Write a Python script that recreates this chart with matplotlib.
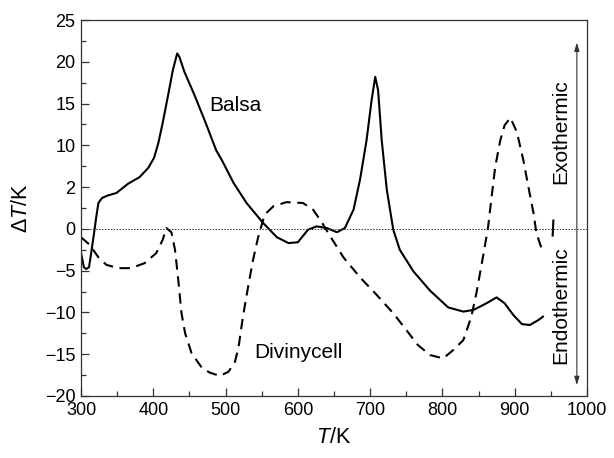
import matplotlib
matplotlib.use("Agg")
import matplotlib.pyplot as plt
from matplotlib.ticker import MultipleLocator, FixedLocator, FixedFormatter

plt.rcParams['font.family'] = ['Liberation Sans', 'DejaVu Sans']
plt.rcParams['mathtext.fontset'] = 'custom'
plt.rcParams['mathtext.rm'] = 'Liberation Sans'
plt.rcParams['mathtext.it'] = 'Liberation Sans:italic'

# Balsa (solid)
balsa_T = [300, 304, 307, 311, 314, 318, 321, 324, 329, 337, 349, 365, 381, 393, 401, 407,
           413, 420, 427, 433, 436, 443, 457, 471, 487, 495, 511, 529, 552, 571, 587, 600,
           614, 626, 640, 654, 665, 677, 686, 695, 702, 707, 711, 716, 723, 732, 741, 760,
           783, 808, 829, 843, 861, 875, 886, 898, 910, 921, 933, 939]
balsa_dT = [-2.9, -4.6, -4.8, -4.6, -2.9, -0.5, 1.4, 3.1, 3.7, 4.0, 4.3, 5.4, 6.2, 7.3, 8.5, 10.3,
            12.7, 15.8, 19.0, 21.0, 20.6, 18.8, 16.0, 13.0, 9.4, 8.2, 5.5, 3.1, 0.7, -1.0, -1.7, -1.6,
            -0.1, 0.3, 0.1, -0.4, 0.1, 2.3, 5.9, 10.6, 15.4, 18.2, 16.6, 10.6, 4.7, -0.1, -2.5, -5.1,
            -7.4, -9.4, -9.9, -9.7, -8.9, -8.2, -8.9, -10.3, -11.4, -11.5, -10.9, -10.5]

# Divinycell (dashed)
div_T = [300, 312, 324, 335, 351, 369, 388, 404, 413, 418, 425, 430, 435, 439, 444, 453,
         467, 478, 492, 504, 513, 518, 524, 531, 538, 545, 554, 566, 584, 607, 621, 633,
         642, 663, 686, 709, 732, 750, 766, 783, 801, 815, 829, 840, 847, 856, 863, 868,
         873, 880, 886, 894, 903, 912, 919, 926, 930, 937]
div_dT = [-1.0, -1.9, -3.4, -4.3, -4.7, -4.7, -4.1, -2.9, -1.3, 0.1, -0.4, -2.5, -6.5, -10.1, -12.5, -14.9,
          -16.6, -17.2, -17.6, -17.1, -15.9, -14.1, -10.5, -7.0, -3.7, -1.0, 1.7, 2.7, 3.2, 3.1, 2.3, 0.8,
          -0.5, -3.4, -5.8, -7.9, -10.1, -12.1, -13.9, -15.1, -15.5, -14.5, -13.3, -10.5, -7.7, -3.4, 0.1, 3.8,
          7.4, 10.6, 12.4, 13.3, 11.6, 8.2, 5.0, 1.9, -0.5, -2.3]
div_tail_T = [952.5, 953.5]
div_tail_dT = [-0.8, 1.0]

ytick_vals = [-20, -15, -10, -5, 0, 5, 10, 15, 20, 25]
ytick_labels = ['\u221220', '\u221215', '\u221210', '\u22125', '0', '2', '10', '15', '20', '25']
xtick_vals = [300, 400, 500, 600, 700, 800, 900, 1000]

fig = plt.figure(figsize=(6.14, 4.58), dpi=100)
ax = fig.add_axes([0.132, 0.1354, 0.824, 0.8209])

ax.plot(balsa_T, balsa_dT, color='black', lw=1.5, solid_joinstyle='round')
ax.plot(div_T, div_dT, color='black', lw=1.5, dashes=(5.0, 3.2), dash_joinstyle='round')
ax.plot(div_tail_T, div_tail_dT, color='black', lw=1.5)
ax.axhline(0, color='#333333', lw=0.7, ls=(0, (1.5, 1.5)))

ax.set_xlim(300, 1000)
ax.set_ylim(-20, 25)
ax.xaxis.set_major_locator(FixedLocator(xtick_vals))
ax.xaxis.set_minor_locator(MultipleLocator(50))
ax.yaxis.set_major_locator(FixedLocator(ytick_vals))
ax.yaxis.set_major_formatter(FixedFormatter(ytick_labels))
ax.yaxis.set_minor_locator(MultipleLocator(2.5))
ax.tick_params(which='both', direction='in', top=False, right=False, labelsize=13, color='#333333')
ax.tick_params(which='major', length=6, width=0.9, pad=4)
ax.tick_params(which='minor', length=3.5, width=0.9)
for s in ax.spines.values():
    s.set_color('#333333')
    s.set_linewidth(0.9)

ax.set_xlabel(r'$\mathit{T}$/K', fontsize=15.5, labelpad=6)
ax.set_ylabel(r'$\Delta\mathit{T}$/K', fontsize=15.5, labelpad=9)

ax.text(514, 14.8, 'Balsa', fontsize=15, ha='center', va='center')
ax.text(601, -14.8, 'Divinycell', fontsize=15, ha='center', va='center')
ax.text(964, 11.7, 'Exothermic', fontsize=15, ha='center', va='center', rotation=90)
ax.text(964, -9.1, 'Endothermic', fontsize=15, ha='center', va='center', rotation=90)
ax.annotate('', xy=(986, 22.3), xytext=(986, -18.7),
            arrowprops=dict(arrowstyle='<|-|>,head_length=0.5,head_width=0.15', color='#333333', lw=0.8,
                            shrinkA=0, shrinkB=0))

fig.savefig('out.png', dpi=100)
